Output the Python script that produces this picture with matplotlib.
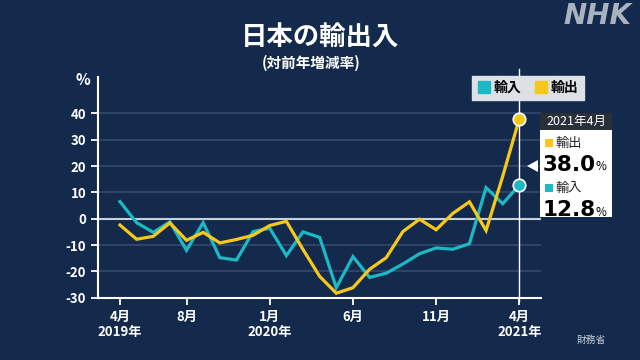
import numpy as np
import matplotlib
matplotlib.use("Agg")
import matplotlib.pyplot as plt
from matplotlib.patches import Rectangle, Polygon
from matplotlib.lines import Line2D

plt.rcParams['font.family'] = ['Noto Sans CJK JP', 'DejaVu Sans']

# monthly change vs previous year (%), Apr 2019 - Apr 2021
exports = [-2.4, -7.8, -6.7, -1.6, -8.2, -5.2, -9.2, -7.9, -6.3, -2.6, -1.0, -11.7,
           -21.9, -28.3, -26.2, -19.2, -14.8, -4.9, -0.2, -4.2, 2.0, 6.4, -4.5, 16.1, 38.0]
imports = [6.5, -1.5, -5.2, -1.2, -12.0, -1.5, -14.8, -15.7, -4.9, -3.6, -14.0, -5.0,
           -7.1, -26.2, -14.4, -22.3, -20.7, -17.2, -13.3, -11.1, -11.6, -9.5, 11.8, 5.7, 12.8]
tick_idx = [0, 4, 9, 14, 19, 24]
tick_labels = ["4月\n2019年", "8月", "1月\n2020年", "6月", "11月", "4月\n2021年"]
last_label = "2021年4月"

BG = "#132a4c"
YEL = "#f7c81b"
TEAL = "#1cb9c5"
W, H = 640, 360


def fx(x):
    return x / W


def fy(y):
    return 1 - y / H


fig = plt.figure(figsize=(6.4, 3.6), dpi=100, facecolor=BG)
ax = fig.add_axes([fx(98), fy(297.7), fx(541 - 98), (297.7 - 77) / H])
ax.set_facecolor(BG)

x = np.arange(len(exports))
ax.set_xlim(-1.32, 25.3)
ax.set_ylim(-30, 53.8)

# grid
for v in range(-20, 50, 10):
    if v == 0:
        ax.axhline(0, color="#c9d0da", lw=1.5, zorder=1)
    else:
        ax.axhline(v, color="#34496b", lw=1.2, zorder=1)

# vertical marker line at last month
ax.plot([x[-1], x[-1]], [-31.2, 57], color="white", lw=1.0, zorder=2, clip_on=False)

ax.plot(x, imports, color=TEAL, lw=2.3, zorder=3, solid_joinstyle="miter")
ax.plot(x, exports, color=YEL, lw=2.3, zorder=4, solid_joinstyle="miter")
ax.plot(x[-1], exports[-1], "o", ms=9, color=YEL, mec="white", mew=1.2, zorder=5, clip_on=False)
ax.plot(x[-1], imports[-1], "o", ms=9, color=TEAL, mec="white", mew=1.2, zorder=5, clip_on=False)

for s in ["top", "right"]:
    ax.spines[s].set_visible(False)
for s in ["left", "bottom"]:
    ax.spines[s].set_color("white")
    ax.spines[s].set_linewidth(1.5)

ax.set_yticks(range(-30, 50, 10))
ax.set_yticklabels([str(v) for v in range(-30, 50, 10)])
ax.set_xticks(tick_idx)
ax.set_xticklabels(tick_labels, linespacing=1.1)
ax.tick_params(colors="white", labelsize=9.5, width=1.3, length=5)
ax.tick_params(axis="x", pad=4)
for t in ax.get_xticklabels() + ax.get_yticklabels():
    t.set_fontweight("bold")
    t.set_color("white")

fig.text(fx(83), fy(80), "%", color="white", fontsize=11, fontweight="bold", ha="center", va="center")

# titles
fig.text(fx(320), fy(38), "日本の輸出入", color="white", fontsize=19, fontweight="bold",
         ha="center", va="center")
fig.text(fx(311), fy(63), "(対前年増減率)", color="white", fontsize=10.5, fontweight="bold",
         ha="center", va="center")
fig.text(fx(597), fy(16), "NHK", color="#a9b2bf", fontsize=20, fontweight="heavy",
         style="italic", ha="center", va="center", family="DejaVu Sans")
fig.text(fx(591), fy(340), "財務省", color="#c5ccd6", fontsize=7, ha="center", va="center")

# legend
handles = [Line2D([], [], ls="", marker="s", ms=9, color=TEAL, label="輸入"),
           Line2D([], [], ls="", marker="s", ms=9, color=YEL, label="輸出")]
leg = fig.legend(handles=handles, ncol=2, loc="center", bbox_to_anchor=(fx(528), fy(88)),
                 frameon=True, facecolor="#dde1e6", edgecolor="#dde1e6", framealpha=1,
                 fancybox=False, handletextpad=0.2, columnspacing=0.9, handlelength=1.0,
                 borderpad=0.35, prop={"weight": "bold", "size": 10})
leg.set_zorder(10)

# value box
fig.patches.append(Rectangle((fx(540), fy(130)), fx(72), 17 / H, transform=fig.transFigure,
                             facecolor="#2b2f37", edgecolor="none", zorder=10))
fig.patches.append(Rectangle((fx(540), fy(217)), fx(72), 87 / H, transform=fig.transFigure,
                             facecolor="white", edgecolor="none", zorder=10))
fig.patches.append(Polygon([(fx(527), fy(166)), (fx(538), fy(160)), (fx(538), fy(172))],
                           closed=True, transform=fig.transFigure, facecolor="white",
                           edgecolor="none", zorder=10))
fig.text(fx(576), fy(121.5), last_label, color="white", fontsize=9, ha="center", va="center",
         zorder=11)
for yy, name, col, val in [(143, "輸出", YEL, exports[-1]), (188, "輸入", TEAL, imports[-1])]:
    fig.patches.append(Rectangle((fx(545), fy(yy + 4)), fx(8), 8 / H, transform=fig.transFigure,
                                 facecolor=col, edgecolor="none", zorder=11))
    fig.text(fx(556), fy(yy), name, color="#222222", fontsize=9.5, ha="left", va="center",
             zorder=11)
    fig.text(fx(543), fy(yy + 22), f"{val:.1f}", color="black", fontsize=15.5,
             fontweight="bold", ha="left", va="center", zorder=11, family="DejaVu Sans")
    fig.text(fx(595), fy(yy + 24), "%", color="black", fontsize=8.5, ha="left", va="center",
             zorder=11)

fig.savefig("out.png", dpi=100, facecolor=BG)
